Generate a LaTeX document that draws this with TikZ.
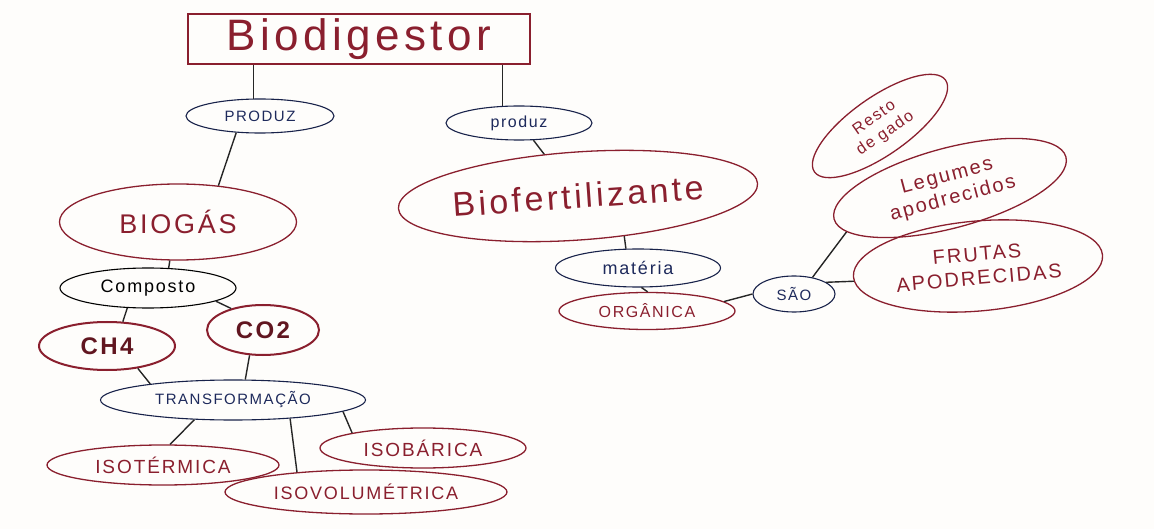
\documentclass[tikz,border=0pt]{standalone}
\usepackage{fontspec}
\setmainfont{Liberation Sans}
\newfontfamily\hand[LetterSpace=10]{Liberation Sans}
\usetikzlibrary{shapes.geometric}
\definecolor{maroon}{HTML}{8A1F2E}
\definecolor{ink}{HTML}{1E2A5C}
\definecolor{paper}{HTML}{FEFDFB}
\tikzset{
  concept/.style={ellipse, draw=maroon, line width=1.3pt, text=maroon, inner sep=0pt, font=\hand, align=center},
  linkword/.style={ellipse, draw=ink!80!black, line width=1.1pt, text=ink, inner sep=0pt, font=\hand, align=center},
  edge/.style={draw=black!85, line width=1.4pt}
}
\newcommand{\fs}[1]{\fontsize{#1}{#1}\selectfont}
\begin{document}
\begin{tikzpicture}[x=1pt,y=1pt]
\fill[paper] (0,0) rectangle (1154,-529);
\useasboundingbox (0,0) rectangle (1154,-529);

% root
\node[draw=maroon, line width=1.3pt, text=maroon, minimum width=342pt, minimum height=50pt, font=\hand\fs{44}] (bd) at (359,-39) {Biodigestor};

% left branch: biogas
\node[linkword, minimum width=148pt, minimum height=34pt, font=\hand\fs{15}] (pl) at (260,-116) {PRODUZ};
\node[concept, minimum width=237pt, minimum height=76pt, font=\hand\fs{27}] (bg) at (178,-222) {BIOGÁS};
\node[linkword, draw=black, text=black, minimum width=176pt, minimum height=40pt, font=\hand\fs{18}] (cp) at (148,-288) {Composto};
\node[concept, line width=2pt, text=maroon!70!black, minimum width=136pt, minimum height=48pt, font=\hand\bfseries\fs{24}] (ch) at (107,-346) {CH4};
\node[concept, line width=2pt, text=maroon!70!black, minimum width=112pt, minimum height=50pt, font=\hand\bfseries\fs{24}] (co) at (263,-330) {CO2};
\node[linkword, minimum width=265pt, minimum height=40pt, font=\hand\fs{15}] (tr) at (233,-400) {TRANSFORMAÇÃO};
\node[concept, minimum width=232pt, minimum height=40pt, font=\hand\fs{19}] (it) at (163,-465) {ISOTÉRMICA};
\node[concept, minimum width=206pt, minimum height=40pt, font=\hand\fs{19}] (ib) at (423,-448) {ISOBÁRICA};
\node[concept, minimum width=282pt, minimum height=44pt, font=\hand\fs{18}] (iv) at (366,-492) {ISOVOLUMÉTRICA};

% right branch: biofertilizer
\node[linkword, minimum width=146pt, minimum height=34pt, font=\hand\fs{16}] (pr) at (519,-123) {produz};
\node[concept, rotate=4, minimum width=360pt, minimum height=88pt, font=\hand\fs{34}] (bf) at (578,-196) {Biofertilizante};
\node[linkword, minimum width=165pt, minimum height=38pt, font=\hand\fs{18}] (mt) at (638,-268) {matéria};
\node[concept, minimum width=176pt, minimum height=37pt, font=\hand\fs{16}] (og) at (647,-311) {ORGÂNICA};
\node[linkword, minimum width=82pt, minimum height=36pt, font=\hand\fs{15}] (sa) at (794,-294) {SÃO};
\node[concept, rotate=35, minimum width=160pt, minimum height=58pt, font=\hand\fs{16}] (rg) at (880,-126) {Resto\\[3pt]de gado};
\node[concept, rotate=15, minimum width=240pt, minimum height=80pt, font=\hand\fs{20}] (lg) at (950,-188) {Legumes\\[3pt]apodrecidos};
\node[concept, rotate=5, minimum width=250pt, minimum height=90pt, font=\hand\fs{20}] (fr) at (978,-266) {FRUTAS\\[4pt]APODRECIDAS};

% connectors
\draw[edge] (pl.110) -- (pl.110 |- bd.south);
\draw[edge] (pr.134) -- (pr.134 |- bd.south);
\draw[edge] (pl.215) -- (bg.42);
\draw[edge] (bg.258) -- (cp.44);
\draw[edge] (cp.224) -- (ch.57);
\draw[edge] (cp.349) -- (co.146);
\draw[edge] (ch.324) -- (tr.169);
\draw[edge] (co.242) -- (tr.59);
\draw[edge] (tr.207) -- (it.71);
\draw[edge] (tr.342) -- (iv.164);
\draw[edge] (tr.354) -- (ib.168);
\draw[edge] (pr.310) -- (bf.125);
\draw[edge] (bf.315) -- (mt.122);
\draw[edge] (mt.280) -- (og.88);
\draw[edge] (og.7) -- (sa.180);
\draw[edge] (sa.42) -- (lg.188);
\draw[edge] (sa.20) -- (fr.182);
\end{tikzpicture}
\end{document}
